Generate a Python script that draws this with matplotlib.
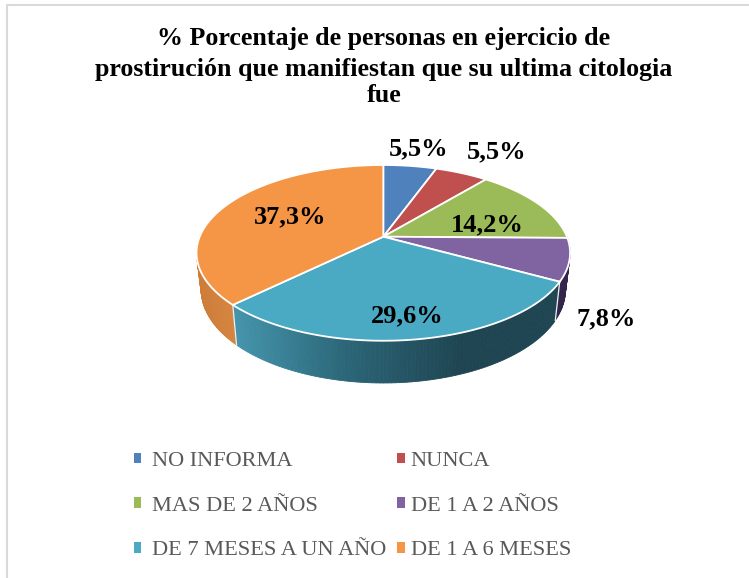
import numpy as np
import matplotlib
matplotlib.use("Agg")
import matplotlib.pyplot as plt
from matplotlib.patches import Patch

title_lines = ["% Porcentaje de personas en ejercicio de",
               "prostirución que manifiestan que su ultima citologia",
               "fue"]
categories = ["NO INFORMA", "NUNCA", "MAS DE 2 AÑOS", "DE 1 A 2 AÑOS",
              "DE 7 MESES A UN AÑO", "DE 1 A 6 MESES"]
values = [5.5, 5.5, 14.2, 7.8, 29.6, 37.3]
value_labels = ["5,5%", "5,5%", "14,2%", "7,8%", "29,6%", "37,3%"]

colors = ["#4f81bd", "#c0504d", "#9bbb59", "#8064a2", "#4aaac4", "#f59646"]
label_xy = [(419, 148.5), (497, 151.5), (487, 224.5), (606, 318.5), (407, 315.5), (290, 216.5)]
order_for_labels = [0, 1, 2, 3, 4, 5]

FONT = "Liberation Serif"
CX, CY = 383.3, 236.7      # apex on screen
S, K, C = 183.6, 84.9, 0.184  # perspective projection of the unit disc
LOW_SX, LOW_SY, LOW_D = 0.975, 1.06, 36.0


def project(theta, r=1.0):
    x, y = r * np.sin(theta), r * np.cos(theta)
    d = 1 + C * y
    return S * x / d, K * y / d


def top_pt(theta):
    X, Y = project(theta)
    return CX + X, CY - Y


def low_pt(theta):
    X, Y = project(theta)
    return CX + LOW_SX * X, CY - (LOW_SY * Y - LOW_D)


def mix(a, b, t):
    t = np.clip(t, 0, 1)
    return tuple((1 - t) * np.array(a) + t * np.array(b))


def wall_color(i, sx):
    if i == 4:
        if sx < 347:
            return mix((0.27, 0.59, 0.68), (0.17, 0.40, 0.47), (sx - 233) / 114)
        return mix((0.17, 0.40, 0.47), (0.12, 0.27, 0.32), (sx - 347) / 113)
    if i == 5:
        return mix((0.80, 0.49, 0.22), (0.84, 0.52, 0.25), (sx - 200) / 35)
    if i == 3:
        return (0.20, 0.15, 0.29)
    return tuple(np.array(matplotlib.colors.to_rgb(colors[i])) * 0.5)


fig = plt.figure(figsize=(7.49, 5.78), dpi=100)
ax = fig.add_axes([0, 0, 1, 1])
ax.set_xlim(0, 749)
ax.set_ylim(578, 0)
ax.axis("off")

# chart frame
ax.plot([6.5, 6.5, 749], [578, 5, 5], color="#d9d9d9", lw=1.5, solid_capstyle="butt")

fr = np.array(values) / np.sum(values)
edges = np.concatenate([[0], np.cumsum(fr)]) * 2 * np.pi

# side walls (back to front)
quads = []
for i in range(len(values)):
    th = np.linspace(edges[i], edges[i + 1], max(3, int(np.degrees(edges[i + 1] - edges[i]))))
    for a, b in zip(th[:-1], th[1:]):
        if np.cos((a + b) / 2) > 0.05:
            continue
        quads.append((i, a, b))
quads.sort(key=lambda q: top_pt((q[1] + q[2]) / 2)[1])
for i, a, b in quads:
    p = [top_pt(a), top_pt(b), low_pt(b), low_pt(a)]
    xs, ys = zip(*p)
    c = wall_color(i, np.mean(xs))
    ax.fill(xs, ys, facecolor=c, edgecolor=c, lw=0.6, zorder=2)

# seams on the wall
for e in edges[1:-1]:
    if np.cos(e) < -0.1:
        t, l = top_pt(e), low_pt(e)
        ax.plot([t[0], l[0]], [t[1], l[1]], color="#f2f2f2", lw=0.9, zorder=3)

# top face
for i in range(len(values)):
    th = np.linspace(edges[i], edges[i + 1], 120)
    xs, ys = top_pt(th)
    ax.fill(np.r_[CX, xs], np.r_[CY, ys], facecolor=colors[i], edgecolor="white",
            lw=1.3, joinstyle="round", zorder=4)

# value labels
for i in order_for_labels:
    ax.text(*label_xy[i], value_labels[i], ha="center", va="center", family=FONT,
            weight="bold", fontsize=19, color="black", zorder=6)

# title
for line, y in zip(title_lines, [39, 69.5, 96]):
    ax.text(384, y, line, ha="center", va="center", family=FONT, weight="bold",
            fontsize=18.7, color="black")


# legend: one column at a time, since the two columns sit at different gaps
def column(idx, x, pad):
    handles = [Patch(facecolor=colors[i], edgecolor="none", label=categories[i]) for i in idx]
    return ax.legend(handles=handles, ncol=1, loc="upper left", frameon=False,
                     bbox_to_anchor=(x, 452), bbox_transform=ax.transData,
                     prop={"family": FONT, "size": 16.1}, labelcolor="#595959",
                     borderpad=0, borderaxespad=0, handlelength=0.34, handleheight=0.34,
                     handletextpad=pad, labelspacing=1.15)


ax.add_artist(column([0, 2, 4], 133.5, 0.5))
column([1, 3, 5], 397, 0.28)

fig.savefig("out.png", dpi=100)
